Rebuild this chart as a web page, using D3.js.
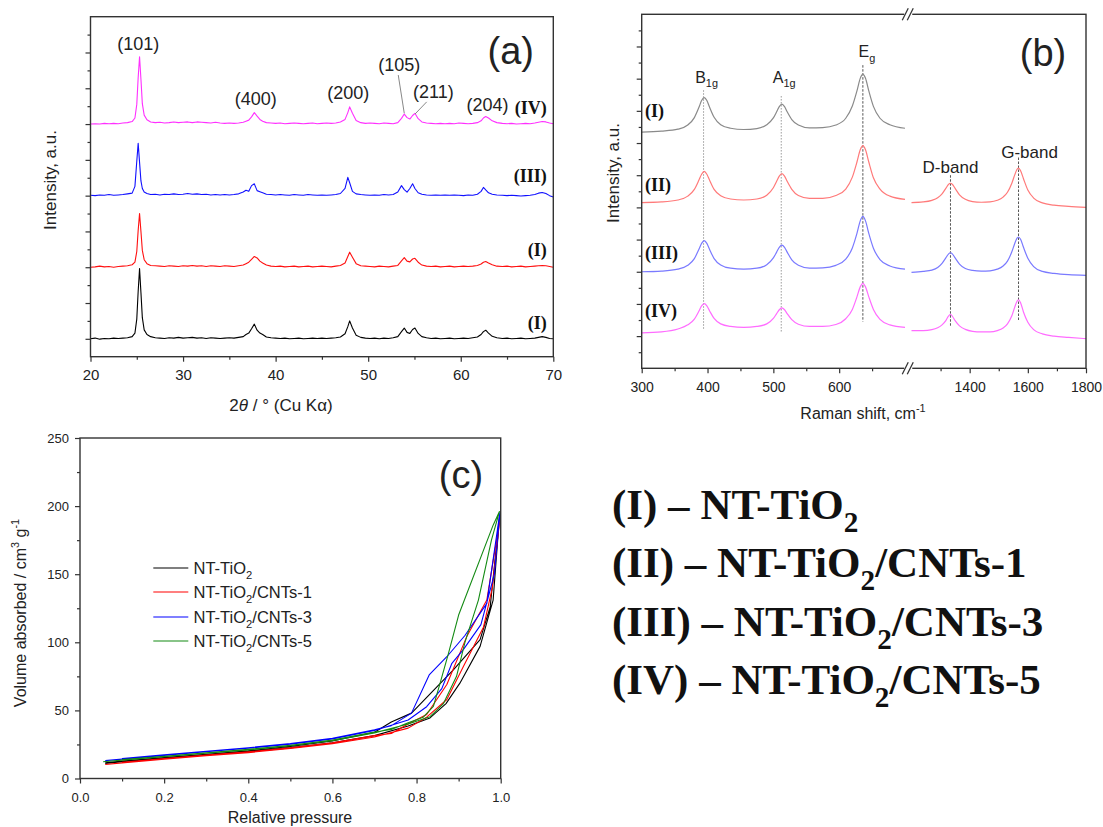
<!DOCTYPE html>
<html>
<head>
<meta charset="utf-8">
<script src="https://cdn.jsdelivr.net/npm/d3@7"></script>
<style>
body { margin: 0; background: #fff; }
svg text { font-family: "Liberation Sans", Arial, sans-serif; fill: #222; }
svg text.serif { font-family: "Liberation Serif", "Times New Roman", serif; font-weight: bold; fill: #111; }
</style>
</head>
<body>
<div id="chart"></div>
<script>
// ---------- (a) XRD patterns, intensity above each trace's own baseline ----------
var xrdAngle = [20, 20.5, 21, 21.5, 22, 22.5, 23, 23.5, 24, 24.5,
  24.8, 25, 25.15, 25.3, 25.45, 25.6, 25.8, 26.1, 26.5, 27,
  27.5, 28, 28.5, 29, 29.5, 30, 30.5, 31, 31.5, 32,
  32.5, 33, 33.5, 34, 34.5, 35, 35.5, 36, 36.5, 36.8,
  37.1, 37.4, 37.7, 38, 38.3, 38.6, 39, 39.5, 40, 40.5,
  41, 41.5, 42, 42.5, 43, 43.5, 44, 44.5, 45, 45.5,
  46, 46.5, 47, 47.5, 47.8, 48, 48.3, 48.7, 49.2, 49.7,
  50.2, 50.7, 51.2, 51.7, 52.2, 52.7, 53.2, 53.6, 53.9, 54.2,
  54.5, 54.8, 55.05, 55.4, 55.8, 56.3, 56.8, 57.3, 57.8, 58.3,
  58.8, 59.3, 59.8, 60.3, 60.8, 61.3, 61.8, 62.2, 62.45, 62.7,
  63, 63.4, 63.9, 64.5, 65, 65.5, 66, 66.5, 67, 67.5,
  68, 68.4, 68.8, 69.2, 69.6, 70];

var xrdNT = [0.00, 0.02, -0.01, 0.01, 0.00, 0.02, 0.01, 0.02, 0.03, 0.06,
  0.16, 0.55, 1.33, 1.96, 1.29, 0.59, 0.25, 0.12, 0.06, 0.03,
  0.02, 0.01, 0.03, 0.02, 0.04, 0.02, 0.03, 0.04, 0.02, 0.03,
  0.01, 0.03, 0.02, 0.01, 0.02, 0.03, 0.02, 0.04, 0.06, 0.12,
  0.16, 0.28, 0.41, 0.24, 0.16, 0.12, 0.05, 0.03, 0.02, 0.01,
  0.02, 0.00, 0.01, 0.02, 0.00, 0.01, 0.02, 0.01, 0.02, 0.01,
  0.02, 0.03, 0.05, 0.14, 0.34, 0.50, 0.30, 0.10, 0.04, 0.02,
  0.01, 0.02, 0.00, 0.02, 0.01, 0.03, 0.06, 0.20, 0.30, 0.18,
  0.15, 0.26, 0.30, 0.15, 0.06, 0.03, 0.01, 0.02, 0.00, 0.01,
  0.02, 0.00, 0.01, 0.02, 0.01, 0.03, 0.05, 0.12, 0.20, 0.24,
  0.16, 0.07, 0.03, 0.01, 0.02, 0.00, 0.01, 0.02, 0.00, 0.01,
  0.02, 0.04, 0.06, 0.04, 0.01, 0.00];

var xrdCNT1 = [0.00, 0.01, 0.03, 0.01, 0.02, 0.00, 0.02, 0.03, 0.04, 0.07,
  0.14, 0.44, 1.03, 1.50, 1.00, 0.47, 0.21, 0.10, 0.05, 0.04,
  0.03, 0.02, 0.04, 0.03, 0.02, 0.04, 0.03, 0.05, 0.03, 0.04,
  0.02, 0.04, 0.03, 0.02, 0.04, 0.03, 0.02, 0.04, 0.06, 0.10,
  0.14, 0.22, 0.30, 0.26, 0.17, 0.12, 0.06, 0.03, 0.02, 0.03,
  0.01, 0.02, 0.03, 0.01, 0.02, 0.03, 0.01, 0.02, 0.03, 0.02,
  0.01, 0.03, 0.05, 0.12, 0.30, 0.42, 0.28, 0.10, 0.04, 0.03,
  0.02, 0.01, 0.03, 0.02, 0.01, 0.03, 0.05, 0.18, 0.27, 0.17,
  0.15, 0.23, 0.25, 0.14, 0.06, 0.03, 0.02, 0.03, 0.01, 0.02,
  0.03, 0.01, 0.02, 0.03, 0.02, 0.03, 0.05, 0.09, 0.14, 0.16,
  0.12, 0.07, 0.03, 0.02, 0.03, 0.01, 0.02, 0.03, 0.01, 0.02,
  0.03, 0.04, 0.05, 0.04, 0.02, 0.00];

var xrdCNT3 = [0.01, 0.00, 0.02, 0.01, 0.03, 0.01, 0.02, 0.03, 0.05, 0.07,
  0.26, 0.96, 1.46, 0.93, 0.41, 0.20, 0.10, 0.06, 0.03, 0.04,
  0.02, 0.04, 0.03, 0.05, 0.03, 0.04, 0.06, 0.04, 0.05, 0.03,
  0.04, 0.02, 0.03, 0.02, 0.03, 0.02, 0.03, 0.05, 0.10, 0.15,
  0.12, 0.28, 0.33, 0.14, 0.11, 0.08, 0.04, 0.03, 0.02, 0.03,
  0.02, 0.01, 0.03, 0.02, 0.01, 0.03, 0.02, 0.01, 0.02, 0.01,
  0.02, 0.03, 0.06, 0.20, 0.51, 0.36, 0.12, 0.05, 0.03, 0.02,
  0.01, 0.02, 0.01, 0.03, 0.02, 0.03, 0.10, 0.28, 0.17, 0.10,
  0.20, 0.33, 0.20, 0.08, 0.04, 0.02, 0.01, 0.02, 0.01, 0.02,
  0.01, 0.02, 0.01, 0.00, 0.02, 0.01, 0.04, 0.12, 0.23, 0.16,
  0.08, 0.04, 0.02, 0.01, 0.00, 0.01, 0.00, -0.01, 0.00, 0.01,
  0.03, 0.07, 0.09, 0.06, 0.00, -0.04];

var xrdCNT5 = [0.00, 0.01, 0.00, 0.02, 0.01, 0.02, 0.01, 0.03, 0.04, 0.07,
  0.17, 0.55, 1.30, 1.88, 1.25, 0.57, 0.25, 0.12, 0.06, 0.04,
  0.05, 0.03, 0.04, 0.06, 0.04, 0.05, 0.06, 0.04, 0.06, 0.05,
  0.04, 0.03, 0.05, 0.03, 0.02, 0.03, 0.02, 0.03, 0.05, 0.08,
  0.11, 0.20, 0.32, 0.22, 0.13, 0.08, 0.04, 0.03, 0.02, 0.03,
  0.01, 0.02, 0.03, 0.02, 0.01, 0.02, 0.03, 0.01, 0.02, 0.03,
  0.02, 0.03, 0.06, 0.13, 0.32, 0.48, 0.30, 0.10, 0.04, 0.02,
  0.03, 0.02, 0.01, 0.03, 0.02, 0.01, 0.04, 0.16, 0.28, 0.18,
  0.14, 0.24, 0.30, 0.15, 0.06, 0.03, 0.02, 0.01, 0.02, 0.01,
  0.02, 0.01, 0.03, 0.02, 0.01, 0.02, 0.04, 0.09, 0.17, 0.21,
  0.17, 0.09, 0.04, 0.02, 0.01, 0.02, 0.00, 0.01, 0.02, 0.01,
  0.03, 0.05, 0.07, 0.06, 0.03, 0.01];

var xrdOffset = [0, 2, 4, 6];
var xrdColors = ["#000000", "#ff1010", "#1010ff", "#ff30ff"];
var xrdTraceLabels = ["(I)", "(I)", "(III)", "(IV)"];
var xrdPeakNames = ["(101)", "(400)", "(200)", "(105)", "(211)", "(204)"];

// ---------- (b) Raman spectra, two segments of the broken axis ----------
var ramanShiftLow = [300, 330, 355, 370, 380, 387, 391, 395, 399, 403,
  410, 420, 435, 455, 475, 490, 500, 505, 509, 513,
  517, 521, 528, 538, 555, 575, 595, 610, 620, 627,
  632, 636, 640, 645, 652, 662, 677, 700];
var ramanShiftHigh = [1200, 1240, 1270, 1290, 1305, 1318, 1327, 1334, 1341, 1350,
  1365, 1385, 1410, 1440, 1470, 1495, 1515, 1530, 1545, 1555,
  1562, 1568, 1575, 1585, 1600, 1620, 1650, 1690, 1740, 1800];

var ramanNTLow = [7.34, 7.37, 7.43, 7.56, 7.79, 8.11, 8.32, 8.41, 8.32, 8.12,
  7.80, 7.57, 7.46, 7.42, 7.45, 7.57, 7.78, 7.97, 8.13, 8.21,
  8.13, 7.97, 7.73, 7.56, 7.47, 7.48, 7.56, 7.77, 8.15, 8.62,
  9.01, 9.14, 9.01, 8.62, 8.14, 7.77, 7.57, 7.46];
var ramanCNT1Low = [5.15, 5.17, 5.23, 5.35, 5.56, 5.85, 6.03, 6.12, 6.03, 5.85,
  5.56, 5.36, 5.26, 5.23, 5.26, 5.38, 5.61, 5.81, 5.97, 6.05,
  5.97, 5.81, 5.56, 5.37, 5.28, 5.28, 5.37, 5.57, 5.94, 6.41,
  6.79, 6.92, 6.79, 6.41, 5.92, 5.57, 5.35, 5.25];
var ramanCNT3Low = [3.00, 3.02, 3.08, 3.20, 3.41, 3.70, 3.88, 3.97, 3.88, 3.70,
  3.41, 3.21, 3.11, 3.08, 3.11, 3.22, 3.43, 3.61, 3.76, 3.83,
  3.76, 3.61, 3.37, 3.20, 3.11, 3.12, 3.20, 3.39, 3.74, 4.19,
  4.58, 4.72, 4.58, 4.19, 3.73, 3.38, 3.18, 3.08];
var ramanCNT5Low = [1.10, 1.13, 1.22, 1.35, 1.53, 1.78, 1.94, 2.01, 1.94, 1.79,
  1.55, 1.38, 1.30, 1.27, 1.30, 1.38, 1.55, 1.70, 1.82, 1.88,
  1.82, 1.70, 1.51, 1.37, 1.30, 1.30, 1.36, 1.54, 1.83, 2.22,
  2.53, 2.64, 2.53, 2.22, 1.83, 1.52, 1.35, 1.27];
var ramanCNT1High = [5.15, 5.17, 5.22, 5.30, 5.42, 5.59, 5.71, 5.75, 5.71, 5.59,
  5.39, 5.25, 5.18, 5.16, 5.17, 5.22, 5.32, 5.47, 5.75, 6.01,
  6.17, 6.22, 6.14, 5.89, 5.54, 5.29, 5.14, 5.07, 5.03, 5.00];
var ramanCNT3High = [2.98, 3.01, 3.05, 3.13, 3.26, 3.43, 3.55, 3.59, 3.55, 3.43,
  3.24, 3.10, 3.04, 3.02, 3.03, 3.08, 3.18, 3.33, 3.62, 3.88,
  4.03, 4.08, 4.01, 3.76, 3.42, 3.16, 3.01, 2.95, 2.91, 2.89];
var ramanCNT5High = [1.17, 1.17, 1.20, 1.26, 1.35, 1.48, 1.62, 1.68, 1.61, 1.48,
  1.32, 1.21, 1.15, 1.13, 1.13, 1.17, 1.25, 1.38, 1.63, 1.90,
  2.07, 2.13, 2.04, 1.75, 1.43, 1.20, 1.07, 1.00, 0.96, 0.92];
var ramanColors = ["#8a8a8a", "#ff7a7a", "#7a7aff", "#ff6cff"];
var ramanTraceLabels = ["(I)", "(II)", "(III)", "(IV)"];
var ramanTraceLabelPos = [7.82, 5.5, 3.4, 1.6];

// band positions (cm-1) and the vertical extent of their guide lines
var bandShift = [394, 512, 636, 1334, 1568];
var bandTop = [8.64, 8.46, 9.42, 6.0, 6.55];
var bandBottom = [1.19, 1.1, 1.45, 1.29, 1.5];

// ---------- (c) N2 isotherms, adsorption then desorption ----------
var isoNT = [[0.06, 11.0], [0.1, 12.3], [0.15, 13.6], [0.2, 14.8], [0.3, 17.2], [0.4, 19.6], [0.5, 22.5], [0.6, 26.3], [0.7, 31.5], [0.78, 38.5], [0.832, 44.5], [0.87, 55], [0.903, 70], [0.951, 97], [0.982, 131], [0.997, 192],
  [0.975, 126], [0.951, 102], [0.888, 80], [0.788, 48], [0.74, 41.5], [0.7, 34], [0.6, 27.6], [0.5, 23.6], [0.4, 20.3], [0.3, 17.8], [0.2, 15.3], [0.1, 12.8], [0.06, 11.5]];
var isoCNT1 = [[0.06, 10.3], [0.1, 11.5], [0.2, 14.2], [0.3, 16.8], [0.4, 19.0], [0.5, 22.0], [0.6, 25.5], [0.7, 30.5], [0.78, 37], [0.824, 45], [0.872, 58], [0.911, 82], [0.959, 111], [0.98, 140], [0.997, 188],
  [0.967, 131], [0.919, 104], [0.872, 69], [0.824, 47], [0.78, 40], [0.74, 33], [0.7, 31.5], [0.6, 26.2], [0.5, 22.6], [0.4, 19.6], [0.3, 17.2], [0.2, 14.6], [0.1, 11.9]];
var isoCNT3 = [[0.06, 13.1], [0.1, 14.2], [0.2, 17.0], [0.3, 19.6], [0.4, 22.2], [0.5, 25.2], [0.6, 29.0], [0.7, 35.2], [0.78, 43], [0.824, 52.7], [0.86, 66], [0.884, 84.6], [0.912, 95], [0.953, 113], [0.985, 150], [0.998, 195],
  [0.967, 128.6], [0.915, 105], [0.872, 89.4], [0.83, 76], [0.788, 48], [0.74, 38.8], [0.7, 35.8], [0.6, 29.6], [0.5, 25.7], [0.4, 22.6], [0.3, 20], [0.2, 17.4], [0.1, 14.6]];
var isoCNT5 = [[0.055, 12.3], [0.1, 13.5], [0.2, 16.0], [0.3, 18.6], [0.4, 21.0], [0.5, 24.0], [0.6, 27.8], [0.7, 33.5], [0.78, 40], [0.832, 45.4], [0.864, 55], [0.895, 75], [0.915, 100], [0.947, 131], [0.978, 175], [0.997, 196],
  [0.982, 186], [0.90, 120], [0.876, 92], [0.856, 70], [0.84, 53], [0.816, 45], [0.78, 41], [0.74, 36], [0.7, 34.2], [0.6, 28.3], [0.5, 24.4], [0.4, 21.4], [0.3, 18.9], [0.2, 16.3], [0.1, 13.9]];
var isoColors = ["#000000", "#ff0000", "#0000ff", "#138a13"];
var sampleNames = ["NT-TiO2", "NT-TiO2/CNTs-1", "NT-TiO2/CNTs-3", "NT-TiO2/CNTs-5"];
var romanNames = ["(I)", "(II)", "(III)", "(IV)"];

// ---------------------------------------------------------------
var svg = d3.select("#chart").append("svg")
  .attr("width", 1103)
  .attr("height", 827);
svg.append("rect").attr("width", 1103).attr("height", 827).attr("fill", "#fff");

// text with sub/superscripts: parts = [[text, mode]], mode "", "sub", "sup", "i"
function rich(g, x, y, parts, size, anchor, cls) {
  var t = g.append("text")
    .attr("x", x).attr("y", y)
    .attr("font-size", size)
    .attr("text-anchor", anchor || "start");
  if (cls) t.attr("class", cls);
  var cur = 0;
  parts.forEach(function(p) {
    var mode = p[1] || "";
    var target = mode == "sub" ? size * 0.3 : mode == "sup" ? -size * 0.42 : 0;
    var ts = t.append("tspan").text(p[0]).attr("dy", target - cur);
    if (mode == "sub" || mode == "sup") ts.attr("font-size", size * 0.68);
    if (mode == "i") ts.attr("font-style", "italic");
    cur = target;
  });
  return t;
}
// "NT-TiO2/CNTs-1" -> parts with the 2 lowered
function formula(name) {
  var i = name.indexOf("TiO2");
  return [[name.slice(0, i + 3), ""], ["2", "sub"], [name.slice(i + 4) || "", ""]];
}

function styleAxis(g, size) {
  g.select(".domain").remove();
  g.selectAll("line").attr("stroke", "#333").attr("stroke-width", 1.2);
  g.selectAll("text").attr("font-size", size).attr("fill", "#222");
}

function frame(x0, x1, y0, y1) {
  svg.append("rect")
    .attr("x", x0).attr("y", y0)
    .attr("width", x1 - x0).attr("height", y1 - y0)
    .attr("fill", "none").attr("stroke", "#333").attr("stroke-width", 1.4);
}

// ===================== panel (a) =====================
var xa = d3.scaleLinear().domain([20, 70]).range([90.5, 553.3]);
var ya = d3.scaleLinear().domain([-0.5, 9]).range([356.7, 16.7]);

var ga = svg.append("g");
var xrdSeries = [xrdNT, xrdCNT1, xrdCNT3, xrdCNT5];

xrdSeries.forEach(function(vals, k) {
  var line = d3.line()
    .x(function(d, i) { return xa(xrdAngle[i]); })
    .y(function(d) { return ya(d + xrdOffset[k]); });
  ga.append("path")
    .attr("d", line(vals))
    .attr("fill", "none")
    .attr("stroke", xrdColors[k])
    .attr("stroke-width", 1.1)
    .attr("stroke-linejoin", "round");
});

frame(xa(20), xa(70), ya(9), ya(-0.5));

styleAxis(svg.append("g").attr("transform", "translate(0," + ya(-0.5) + ")")
  .call(d3.axisBottom(xa).tickValues(d3.range(20, 71, 10)).tickSize(5).tickPadding(8)), 15);
styleAxis(svg.append("g").attr("transform", "translate(0," + ya(-0.5) + ")")
  .call(d3.axisBottom(xa).tickValues(d3.range(25, 70, 10)).tickSize(3).tickFormat("")), 15);
styleAxis(svg.append("g").attr("transform", "translate(" + xa(20) + ",0)")
  .call(d3.axisLeft(ya).tickValues(d3.range(0, 9, 1)).tickSize(5).tickFormat("")), 15);
styleAxis(svg.append("g").attr("transform", "translate(" + xa(20) + ",0)")
  .call(d3.axisLeft(ya).tickValues(d3.range(0.5, 9, 1)).tickSize(3).tickFormat("")), 15);

// peak labels
var peakLabelAngle = [25.16, 37.86, 47.85, 53.35, 57.04, 62.89];
var peakLabelY = [8.07, 6.53, 6.7, 7.48, 6.74, 6.37];
xrdPeakNames.forEach(function(n, i) {
  ga.append("text")
    .attr("x", xa(peakLabelAngle[i]))
    .attr("y", ya(peakLabelY[i]))
    .attr("text-anchor", "middle")
    .attr("font-size", 18)
    .text(n);
});
// leader lines for (105) and (211)
ga.append("line")
  .attr("x1", xa(53.25)).attr("y1", ya(7.37)).attr("x2", xa(53.9)).attr("y2", ya(6.3))
  .attr("stroke", "#888").attr("stroke-width", 1);
ga.append("line")
  .attr("x1", xa(56.32)).attr("y1", ya(6.62)).attr("x2", xa(55.06)).attr("y2", ya(6.28))
  .attr("stroke", "#888").attr("stroke-width", 1);

var xrdLabelY = [0.27, 2.31, 4.37, 6.28];
xrdTraceLabels.forEach(function(n, k) {
  ga.append("text").attr("class", "serif")
    .attr("x", xa(69.3)).attr("y", ya(xrdLabelY[k]))
    .attr("text-anchor", "end").attr("font-size", 18)
    .text(n);
});

svg.append("text").attr("x", xa(65.4)).attr("y", 64)
  .attr("text-anchor", "middle").attr("font-size", 38).text("(a)");

rich(svg, 281, 411, [["2", ""], ["\u03b8", "i"], [" / \u00b0 (Cu K\u03b1)", ""]], 17, "middle");
rich(svg.append("g").attr("transform", "translate(56,180) rotate(-90)"), 0, 0,
  [["Intensity, a.u.", ""]], 17, "middle");

// ===================== panel (b) =====================
var xbLow = d3.scaleLinear().domain([300, 700]).range([641.7, 905]);
var xbHigh = d3.scaleLinear().domain([1200, 1800]).range([911.5, 1086]);
var yb = d3.scaleLinear().domain([0, 11]).range([368.3, 14.3]);

var gb = svg.append("g");

// guide lines under the traces
bandShift.forEach(function(s, i) {
  var sx = s < 1000 ? xbLow(s) : xbHigh(s);
  gb.append("line")
    .attr("x1", sx).attr("x2", sx)
    .attr("y1", yb(bandTop[i])).attr("y2", yb(bandBottom[i]))
    .attr("stroke", i < 2 ? "#9a9a9a" : "#555")
    .attr("stroke-width", 1)
    .attr("stroke-dasharray", i < 2 ? "1.5,1.5" : "2.5,1.5");
});

var lowSeries = [ramanNTLow, ramanCNT1Low, ramanCNT3Low, ramanCNT5Low];
var highSeries = [null, ramanCNT1High, ramanCNT3High, ramanCNT5High];
lowSeries.forEach(function(vals, k) {
  var line = d3.line().curve(d3.curveMonotoneX)
    .x(function(d, i) { return xbLow(ramanShiftLow[i]); })
    .y(function(d) { return yb(d); });
  gb.append("path").attr("d", line(vals))
    .attr("fill", "none").attr("stroke", ramanColors[k]).attr("stroke-width", 1.2);
  if (highSeries[k]) {
    var line2 = d3.line().curve(d3.curveMonotoneX)
      .x(function(d, i) { return xbHigh(ramanShiftHigh[i]); })
      .y(function(d) { return yb(d); });
    gb.append("path").attr("d", line2(highSeries[k]))
      .attr("fill", "none").attr("stroke", ramanColors[k]).attr("stroke-width", 1.2);
  }
});

frame(xbLow(300), xbHigh(1800), yb(11), yb(0));
// axis break
var breakX = (xbLow(700) + xbHigh(1200)) / 2;
[yb(11), yb(0)].forEach(function(yy) {
  svg.append("rect").attr("x", breakX - 4).attr("y", yy - 3).attr("width", 8).attr("height", 6).attr("fill", "#fff");
  [-3, 2].forEach(function(dx) {
    svg.append("line")
      .attr("x1", breakX + dx - 3).attr("y1", yy + 6)
      .attr("x2", breakX + dx + 3).attr("y2", yy - 6)
      .attr("stroke", "#333").attr("stroke-width", 1.3);
  });
});

styleAxis(svg.append("g").attr("transform", "translate(0," + yb(0) + ")")
  .call(d3.axisBottom(xbLow).tickValues([300, 400, 500, 600]).tickSize(5).tickPadding(8.5).tickFormat(d3.format("d"))), 14);
styleAxis(svg.append("g").attr("transform", "translate(0," + yb(0) + ")")
  .call(d3.axisBottom(xbLow).tickValues([350, 450, 550, 650]).tickSize(3).tickFormat("")), 14);
styleAxis(svg.append("g").attr("transform", "translate(0," + yb(0) + ")")
  .call(d3.axisBottom(xbHigh).tickValues([1400, 1600, 1800]).tickSize(5).tickPadding(8.5).tickFormat(d3.format("d"))), 14);
styleAxis(svg.append("g").attr("transform", "translate(0," + yb(0) + ")")
  .call(d3.axisBottom(xbHigh).tickValues([1300, 1500, 1700]).tickSize(3).tickFormat("")), 14);
styleAxis(svg.append("g").attr("transform", "translate(" + xbLow(300) + ",0)")
  .call(d3.axisLeft(yb).tickValues(d3.range(1, 11, 1)).tickSize(5).tickFormat("")), 14);
styleAxis(svg.append("g").attr("transform", "translate(" + xbLow(300) + ",0)")
  .call(d3.axisLeft(yb).tickValues(d3.range(0.5, 11, 1)).tickSize(3).tickFormat("")), 14);

// band labels
rich(gb, xbLow(394) + 3, yb(8.88), [["B", ""], ["1g", "sub"]], 16, "middle");
rich(gb, xbLow(512) + 3, yb(8.88), [["A", ""], ["1g", "sub"]], 16, "middle");
rich(gb, xbLow(636) + 4, yb(9.68), [["E", ""], ["g", "sub"]], 16, "middle");
rich(gb, xbHigh(1334), yb(6.08), [["D-band", ""]], 17, "middle");
rich(gb, xbHigh(1568) + 11, yb(6.55), [["G-band", ""]], 17, "middle");

ramanTraceLabels.forEach(function(n, k) {
  gb.append("text").attr("class", "serif")
    .attr("x", 645).attr("y", yb(ramanTraceLabelPos[k]))
    .attr("font-size", 18).text(n);
});

svg.append("text").attr("x", 1043).attr("y", 66)
  .attr("text-anchor", "middle").attr("font-size", 38).text("(b)");
rich(svg, 863, 419, [["Raman shift, cm", ""], ["-1", "sup"]], 16, "middle");
rich(svg.append("g").attr("transform", "translate(619,173) rotate(-90)"), 0, 0,
  [["Intensity, a.u.", ""]], 17, "middle");

// ===================== panel (c) =====================
var xc = d3.scaleLinear().domain([0, 1]).range([80, 500.7]);
var yc = d3.scaleLinear().domain([0, 250]).range([778.5, 438]);
var gc = svg.append("g");

[isoNT, isoCNT1, isoCNT3, isoCNT5].forEach(function(pts, k) {
  var line = d3.line()
    .x(function(d) { return xc(d[0]); })
    .y(function(d) { return yc(d[1]); });
  gc.append("path").attr("d", line(pts))
    .attr("fill", "none").attr("stroke", isoColors[k]).attr("stroke-width", 1.1)
    .attr("stroke-linejoin", "round");
});

frame(xc(0), xc(1), yc(250), yc(0));
styleAxis(svg.append("g").attr("transform", "translate(0," + yc(0) + ")")
  .call(d3.axisBottom(xc).tickValues(d3.range(0, 1.01, 0.2)).tickSize(5).tickPadding(9).tickFormat(d3.format(".1f"))), 13);
styleAxis(svg.append("g").attr("transform", "translate(0," + yc(0) + ")")
  .call(d3.axisBottom(xc).tickValues(d3.range(0.1, 1, 0.2)).tickSize(3).tickFormat("")), 13);
styleAxis(svg.append("g").attr("transform", "translate(" + xc(0) + ",0)")
  .call(d3.axisLeft(yc).tickValues(d3.range(0, 251, 50)).tickSize(5).tickPadding(6)), 13);
styleAxis(svg.append("g").attr("transform", "translate(" + xc(0) + ",0)")
  .call(d3.axisLeft(yc).tickValues(d3.range(25, 250, 50)).tickSize(3).tickFormat("")), 13);

// legend
var legY = [574, 598, 623, 647];
sampleNames.forEach(function(n, k) {
  gc.append("line")
    .attr("x1", 153.3).attr("x2", 188.3)
    .attr("y1", legY[k] - 6).attr("y2", legY[k] - 6)
    .attr("stroke", isoColors[k]).attr("stroke-width", 1.2);
  rich(gc, 193.5, legY[k], formula(n), 16.5, "start");
});

svg.append("text").attr("x", 461).attr("y", 488)
  .attr("text-anchor", "middle").attr("font-size", 38).text("(c)");
rich(svg, 290, 823, [["Relative pressure", ""]], 16, "middle");
rich(svg.append("g").attr("transform", "translate(26,613) rotate(-90)"), 0, 0,
  [["Volume absorbed / cm", ""], ["3", "sup"], [" g", ""], ["-1", "sup"]], 16, "middle");

// ===================== key on the right =====================
var keyY = [519, 577, 636, 694];
sampleNames.forEach(function(n, k) {
  var parts = [[romanNames[k] + " \u2013 ", ""]].concat(formula(n));
  rich(svg, 612, keyY[k], parts, 43, "start", "serif");
});
</script>
</body>
</html>
